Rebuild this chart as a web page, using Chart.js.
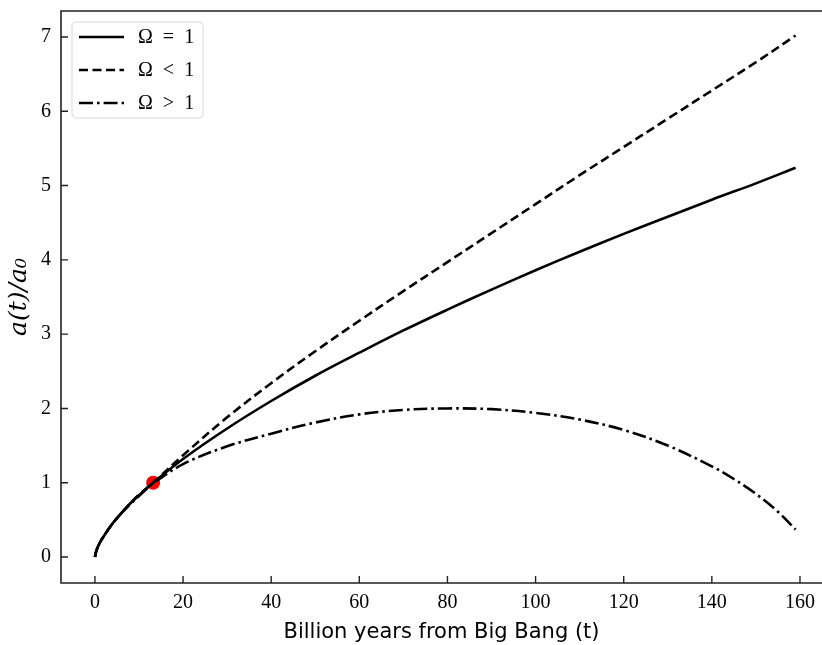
<!DOCTYPE html>
<html>
<head>
<meta charset="utf-8">
<script src="https://cdn.jsdelivr.net/npm/chart.js@4.4.1/dist/chart.umd.min.js"></script>
<style>
  body { margin: 0; background: #fff; }
  canvas { display: block; }
</style>
</head>
<body>
<canvas id="myChart" width="822" height="645"></canvas>
<script>
// values
const tFlat = [0, 0.3, 1, 2, 4, 6, 8, 10, 13.2, 20, 30, 40, 50, 60, 70, 80, 90, 100, 110, 120, 130, 140, 150, 159]
const aFlat = [0, 0.08, 0.18, 0.28, 0.45, 0.59, 0.72, 0.83, 1.0, 1.32, 1.73, 2.10, 2.44, 2.75, 3.05, 3.33, 3.60, 3.86, 4.11, 4.35, 4.58, 4.81, 5.03, 5.24]

const tOpen = [0, 0.3, 1, 2, 4, 6, 8, 10, 13.2, 20, 30, 40, 50, 60, 70, 80, 90, 100, 110, 120, 130, 140, 150, 159]
const aOpen = [0, 0.08, 0.18, 0.28, 0.45, 0.59, 0.72, 0.84, 1.0, 1.37, 1.88, 2.34, 2.77, 3.18, 3.58, 3.97, 4.36, 4.75, 5.14, 5.52, 5.90, 6.28, 6.66, 7.02]

const tClosed = [0, 0.3, 1, 2, 4, 6, 8, 10, 13.2, 20, 30, 40, 50, 60, 70, 80, 90, 100, 110, 120, 130, 140, 145, 150, 155, 159]
const aClosed = [0, 0.08, 0.18, 0.28, 0.45, 0.59, 0.71, 0.82, 0.99, 1.25, 1.49, 1.66, 1.81, 1.92, 1.98, 2.0, 1.99, 1.94, 1.85, 1.71, 1.50, 1.22, 1.05, 0.85, 0.61, 0.37]

const todayT = [13.2]
const todayA = [1.0]

const xTicks = [0, 20, 40, 60, 80, 100, 120, 140, 160]
const yTicks = [0, 1, 2, 3, 4, 5, 6, 7]

const labels = ['\u03A9\u2002=\u20021', '\u03A9\u2002<\u20021', '\u03A9\u2002>\u20021']

const toPoints = (xs, ys) => xs.map((x, i) => ({x: x, y: ys[i]}))

const serif = '"Liberation Serif", "DejaVu Serif", serif'
const sans = '"DejaVu Sans", "Open Sans", sans-serif'

// frame (top, left, bottom spines) with inward ticks
const framePlugin = {
    id: 'frame',
    afterDatasetsDraw(chart) {
        let ctx = chart.ctx
        let a = chart.chartArea
        let xs = chart.scales.x
        let ys = chart.scales.y
        ctx.save()
        ctx.strokeStyle = '#222'
        ctx.lineWidth = 1.6
        ctx.beginPath()
        ctx.moveTo(chart.width, a.top)
        ctx.lineTo(a.left, a.top)
        ctx.lineTo(a.left, a.bottom)
        ctx.lineTo(chart.width, a.bottom)
        ctx.stroke()
        ctx.lineWidth = 1.4
        ctx.beginPath()
        xTicks.forEach(v => {
            let px = xs.getPixelForValue(v)
            ctx.moveTo(px, a.bottom)
            ctx.lineTo(px, a.bottom - 7)
        })
        yTicks.forEach(v => {
            let py = ys.getPixelForValue(v)
            ctx.moveTo(a.left, py)
            ctx.lineTo(a.left + 7, py)
        })
        ctx.stroke()
        ctx.restore()
    }
}

// legend box in the upper left corner of the axes
const legendPlugin = {
    id: 'boxLegend',
    afterDatasetsDraw(chart) {
        let ctx = chart.ctx
        let a = chart.chartArea
        let x0 = a.left + 11, y0 = a.top + 11, w = 131, h = 96
        ctx.save()
        ctx.fillStyle = 'rgba(255,255,255,0.85)'
        ctx.strokeStyle = '#d8d8d8'
        ctx.lineWidth = 1
        ctx.beginPath()
        ctx.roundRect(x0, y0, w, h, 4)
        ctx.fill()
        ctx.stroke()
        ctx.font = '20px ' + serif
        ctx.textBaseline = 'middle'
        ctx.fillStyle = '#000'
        for (let i = 0; i < 3; i++) {
            let ds = chart.data.datasets[i]
            let y = y0 + 15 + i * 33
            ctx.strokeStyle = '#000'
            ctx.lineWidth = 2.6
            ctx.setLineDash(ds.borderDash || [])
            ctx.beginPath()
            ctx.moveTo(x0 + 7, y)
            ctx.lineTo(x0 + 52, y)
            ctx.stroke()
            ctx.setLineDash([])
            ctx.fillText(ds.label, x0 + 66, y + 1)
        }
        ctx.restore()
    }
}

const ctx = document.getElementById('myChart')

new Chart(ctx, {
    type: 'line',
    data: {
        datasets: [{
            label: labels[0],
            data: toPoints(tFlat, aFlat),
            borderColor: '#000',
            borderWidth: 2.6,
            pointRadius: 0,
            tension: 0.35
        },
        {
            label: labels[1],
            data: toPoints(tOpen, aOpen),
            borderColor: '#000',
            borderWidth: 2.6,
            borderDash: [9, 4.5],
            pointRadius: 0,
            tension: 0.35
        },
        {
            label: labels[2],
            data: toPoints(tClosed, aClosed),
            borderColor: '#000',
            borderWidth: 2.6,
            borderDash: [14, 4, 2.6, 4],
            pointRadius: 0,
            tension: 0.35
        },
        {
            label: 'today',
            data: toPoints(todayT, todayA),
            showLine: false,
            pointRadius: 7,
            pointBackgroundColor: '#ff0000',
            pointBorderWidth: 0,
            borderColor: '#ff0000'
        }]
    },
    options: {
        responsive: false,
        devicePixelRatio: 1,
        animation: false,
        layout: { autoPadding: false, padding: { top: 11, right: 0, left: 0, bottom: 0 } },
        plugins: {
            legend: { display: false },
            tooltip: { enabled: false }
        },
        scales: {
            x: {
                type: 'linear',
                min: -7.7,
                max: 165.0,
                grid: { display: false, drawTicks: false },
                border: { display: false },
                afterBuildTicks: s => { s.ticks = xTicks.map(v => ({value: v})) },
                afterFit: s => {
                    s.height = 62
                    s.paddingLeft = 0
                    s.paddingRight = 0
                },
                ticks: {
                    color: '#000',
                    padding: 8,
                    maxRotation: 0,
                    font: { family: serif, size: 20 },
                    callback: v => v
                },
                title: {
                    display: true,
                    text: 'Billion years from Big Bang (t)',
                    color: '#000',
                    font: { family: sans, size: 21 },
                    padding: { top: 0, bottom: 0 }
                }
            },
            y: {
                type: 'linear',
                min: -0.35,
                max: 7.35,
                grid: { display: false, drawTicks: false },
                border: { display: false },
                afterBuildTicks: s => { s.ticks = yTicks.map(v => ({value: v})) },
                afterFit: s => {
                    s.width = 61
                    s.paddingTop = 0
                    s.paddingBottom = 0
                },
                ticks: {
                    color: '#000',
                    padding: 10,
                    font: { family: serif, size: 20 },
                    callback: v => v
                },
                title: {
                    display: true,
                    text: 'a(t)/a\u2080',
                    color: '#000',
                    font: { family: '"DejaVu Serif", serif', size: 25, style: 'italic' },
                    padding: { top: 4, bottom: 0 }
                }
            }
        }
    },
    plugins: [framePlugin, legendPlugin]
})
</script>
</body>
</html>
